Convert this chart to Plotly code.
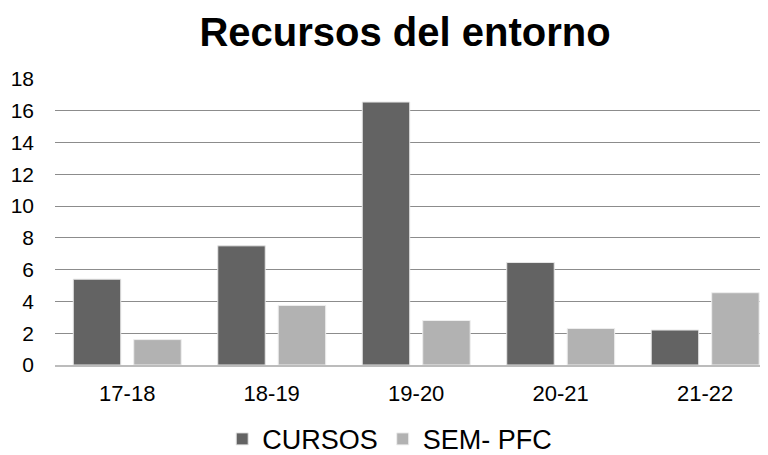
import plotly.graph_objects as go

# school years on the x axis
years = ["17-18", "18-19", "19-20", "20-21", "21-22"]

# values
cursos = [5.4, 7.5, 16.55, 6.45, 2.2]
sem_pfc = [1.6, 3.75, 2.8, 2.3, 4.55]

y_ticks = [0, 2, 4, 6, 8, 10, 12, 14, 16, 18]

FONT = "Liberation Sans, Arial, sans-serif"

fig = go.Figure()
fig.add_trace(go.Bar(
    x=years, y=cursos, name="CURSOS",
    marker=dict(color="#636363", line=dict(color="#e6e6e6", width=1)),
))
fig.add_trace(go.Bar(
    x=years, y=sem_pfc, name="SEM- PFC",
    marker=dict(color="#b2b2b2", line=dict(color="#eeeeee", width=1)),
))

# note: the html page adds an 8px body margin, so everything is shifted by 8px
fig.update_layout(
    width=768,
    height=455,
    barmode="group",
    bargap=0.163,
    bargroupgap=0.215,
    plot_bgcolor="white",
    paper_bgcolor="white",
    margin=dict(l=47, r=0, t=71, b=98),
    font=dict(family=FONT, color="black", size=21),
    title=dict(
        text="<b>Recursos del entorno</b>",
        x=0.517, xanchor="center",
        y=0.948, yanchor="middle",
        font=dict(size=40, family=FONT, color="black"),
    ),
    showlegend=True,
    # legend placed in container coords so it does not push the plot margins
    legend=dict(
        orientation="h",
        xref="container", yref="container",
        x=0.497, xanchor="center",
        y=0.052, yanchor="middle",
        font=dict(size=27, family=FONT),
        itemwidth=30,
        traceorder="normal",
    ),
    xaxis=dict(
        range=[-0.5, 4.49],
        automargin=False,
        showgrid=False,
        showline=True,
        linecolor="#bcbcbc",
        linewidth=2,
        ticks="",
        ticklabelstandoff=8,
        tickfont=dict(size=22),
    ),
    yaxis=dict(
        range=[0, 18],
        tickvals=y_ticks,
        automargin=False,
        showgrid=True,
        gridcolor="#8c8c8c",
        gridwidth=1,
        zeroline=False,
        showline=False,
        ticks="",
        ticklabelstandoff=20,
        tickfont=dict(size=21),
    ),
)

fig.write_html("out.html")
